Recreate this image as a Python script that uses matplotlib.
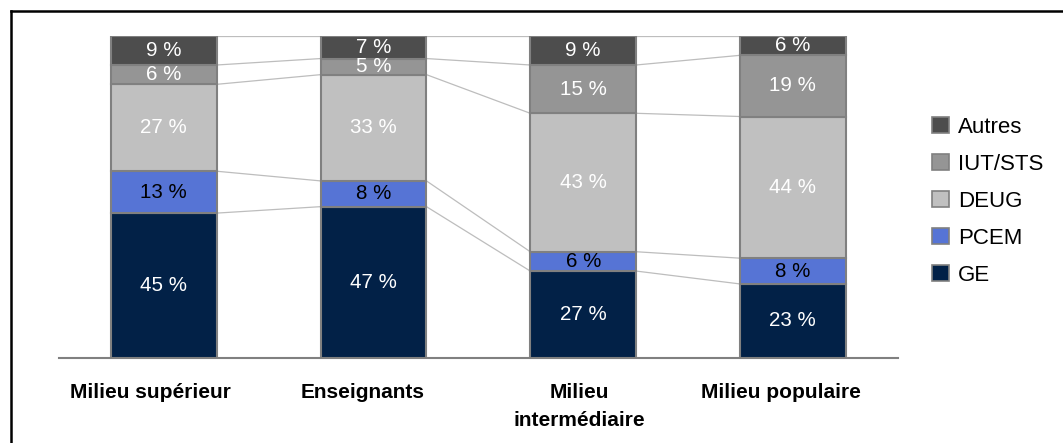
import numpy as np
import matplotlib
matplotlib.use("Agg")
from matplotlib import pyplot as plt
from matplotlib.lines import Line2D
from matplotlib.patches import Patch
from matplotlib.transforms import ScaledTranslation

plt.rcParams['font.family'] = ['Liberation Sans', 'DejaVu Sans']

groups = ['Milieu supérieur', 'Enseignants', 'Milieu\nintermédiaire', 'Milieu populaire']
series = ['GE', 'PCEM', 'DEUG', 'IUT/STS', 'Autres']
ge = [45, 47, 27, 23]
pcem = [13, 8, 6, 8]
deug = [27, 33, 43, 44]
iut = [6, 5, 15, 19]
autres = [9, 7, 9, 6]

colors = ['#022147', '#5674D5', '#C0C0C0', '#959595', '#4D4D4D']
text_colors = ['white', 'black', 'white', 'white', 'white']

fig = plt.figure(figsize=(10.63, 4.43), dpi=100)
ax = fig.add_axes([0.0555, 0.1919, 0.789, 0.7268])

x = np.arange(len(groups))
width = 0.505
bottom = np.zeros(len(groups))
tops = []
for vals, col, tc in zip([ge, pcem, deug, iut, autres], colors, text_colors):
    vals = np.array(vals, dtype=float)
    ax.bar(x, vals, width, bottom=bottom, color=col, edgecolor='#808080',
           linewidth=1.5, zorder=3)
    for xi, b, v in zip(x, bottom, vals):
        ax.text(xi, b + v / 2, f'{int(v)} %', ha='center', va='center',
                color=tc, fontsize=14.8, zorder=4)
    bottom = bottom + vals
    tops.append(bottom.copy())

# connector lines between segment boundaries
for level in tops:
    for i in range(len(groups) - 1):
        ax.plot([x[i] + width / 2, x[i + 1] - width / 2], [level[i], level[i + 1]],
                color='#BDBDBD', linewidth=0.9, zorder=2)

ax.set_xlim(-0.5, 3.5)
ax.set_ylim(0, 100)
ax.set_xticks(x)
ax.set_xticklabels(groups, fontweight='bold', fontsize=15, linespacing=1.6)
ax.tick_params(axis='x', length=0, pad=18)
# labels sit a little left of the bar centres in the original
shifts = [-0.13, -0.11, -0.04, -0.12]
for lab, dx in zip(ax.get_xticklabels(), shifts):
    lab.set_transform(lab.get_transform() + ScaledTranslation(dx, 0, fig.dpi_scale_trans))
ax.set_yticks([])
for s in ['top', 'right', 'left']:
    ax.spines[s].set_visible(False)
ax.spines['bottom'].set_color('#808080')
ax.spines['bottom'].set_linewidth(1.5)

handles = [Patch(facecolor=c, edgecolor='#808080', linewidth=1.2) for c in colors]
leg = fig.legend(handles[::-1], series[::-1], loc='center left',
                 bbox_to_anchor=(0.877, 0.545), frameon=False, fontsize=16,
                 handlelength=0.75, handleheight=0.75, handletextpad=0.4,
                 labelspacing=0.72, borderpad=0, borderaxespad=0)

# outer frame (top and left edges visible)
fig.add_artist(Line2D([11 / 1063, 1.0], [1 - 11 / 443, 1 - 11 / 443],
                      color='black', linewidth=1.8, transform=fig.transFigure))
fig.add_artist(Line2D([11 / 1063, 11 / 1063], [0.0, 1 - 11 / 443],
                      color='black', linewidth=1.8, transform=fig.transFigure))

fig.savefig('out.png', dpi=100)
